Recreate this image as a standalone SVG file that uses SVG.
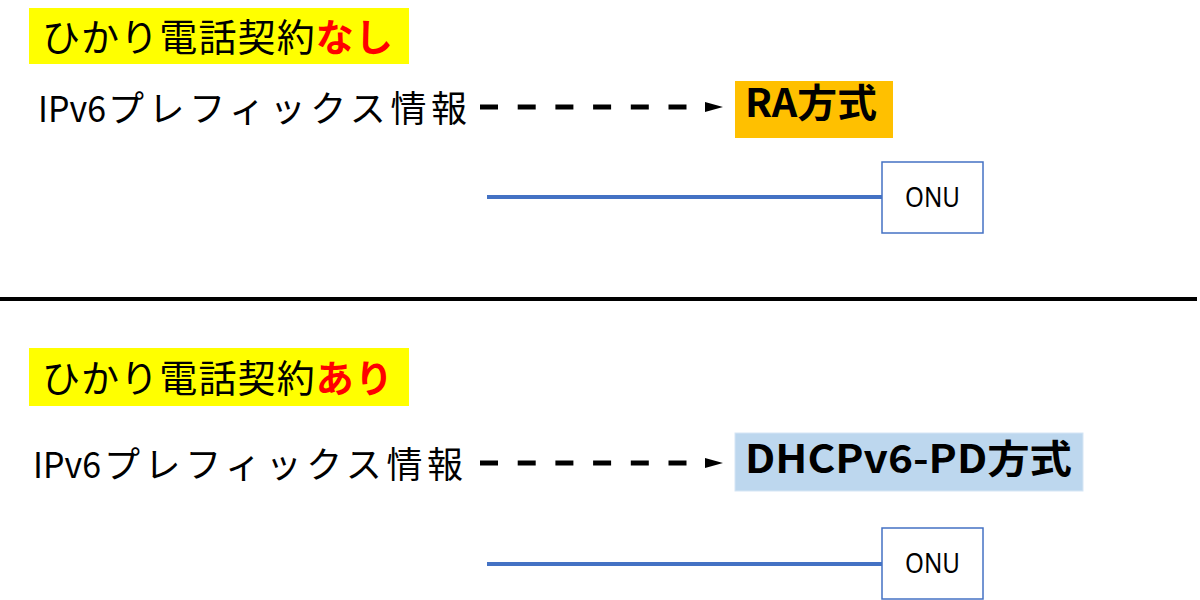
<svg xmlns="http://www.w3.org/2000/svg" width="1200" height="600" viewBox="0 0 1200 600">
<style>
.t{font-family:"Noto Sans CJK JP","Noto Sans",sans-serif;fill:#000;font-size:38px}
.red{fill:#FF0000;font-weight:bold}
.ip{font-family:"Noto Sans CJK JP","Noto Sans",sans-serif;font-size:36px;fill:#000}
.m{font-family:"Noto Sans CJK JP","Noto Sans",sans-serif;font-size:39px;font-weight:bold;fill:#000}
.onu{fill:#fff;stroke:#4472C4;stroke-width:1.5}
.onut{font-family:"Noto Sans","Liberation Sans",sans-serif;font-size:27px;fill:#000}
.dash{stroke:#000;stroke-width:5;stroke-dasharray:18 19.7;fill:none}
.blue{stroke:#4472C4;stroke-width:4}
</style>
<defs>
<marker id="ah" markerWidth="18" markerHeight="10" refX="0" refY="5" orient="auto" markerUnits="userSpaceOnUse">
<path d="M0,0 L18,5 L0,10 Z" fill="#000"/>
</marker>
</defs>
<rect width="1200" height="600" fill="#fff"/>
<g id="title-top">
<rect x="29" y="8" width="380" height="56" fill="#FFFF00"/>
<text class="t" x="42" y="51" textLength="351" lengthAdjust="spacing">ひかり電話契約<tspan class="red">なし</tspan></text>
</g>
<g id="ipv6-top"><text class="ip" x="38" y="122"><tspan textLength="68" lengthAdjust="spacingAndGlyphs">IPv6</tspan><tspan x="108" textLength="359" lengthAdjust="spacing">プレフィックス情報</tspan></text></g>
<g id="ra">
<rect x="735" y="81" width="158" height="57" fill="#FFC000"/>
<text class="m" x="745" y="117" textLength="132" lengthAdjust="spacingAndGlyphs">RA方式</text>
</g>
<g id="onu-top">
<rect class="onu" x="882" y="162" width="101" height="71"/>
<text class="onut" x="905" y="207" textLength="55" lengthAdjust="spacingAndGlyphs">ONU</text>
</g>
<line x1="0" y1="299" x2="1197" y2="299" stroke="#000" stroke-width="4"/>
<g id="title-bottom">
<rect x="29" y="348" width="380" height="58" fill="#FFFF00"/>
<text class="t" x="42" y="392" textLength="351" lengthAdjust="spacing">ひかり電話契約<tspan class="red">あり</tspan></text>
</g>
<g id="ipv6-bottom"><text class="ip" x="33" y="478"><tspan textLength="68" lengthAdjust="spacingAndGlyphs">IPv6</tspan><tspan x="104" textLength="359" lengthAdjust="spacing">プレフィックス情報</tspan></text></g>
<g id="dhcp">
<rect x="735" y="433" width="348" height="58" fill="#BDD7EE" stroke="#D6E6F5" stroke-width="1"/>
<text class="m" x="745" y="473" textLength="327" lengthAdjust="spacingAndGlyphs">DHCPv6-PD方式</text>
</g>
<g id="onu-bottom">
<rect class="onu" x="882" y="528" width="101" height="71"/>
<text class="onut" x="905" y="573" textLength="55" lengthAdjust="spacingAndGlyphs">ONU</text>
</g>
<g id="connectors">
<line class="dash" x1="480" y1="107" x2="705" y2="107" marker-end="url(#ah)"/>
<line class="blue" x1="487" y1="197" x2="882" y2="197"/>
<line class="dash" x1="480" y1="463" x2="705" y2="463" marker-end="url(#ah)"/>
<line class="blue" x1="487" y1="564" x2="882" y2="564"/>
</g>
</svg>
